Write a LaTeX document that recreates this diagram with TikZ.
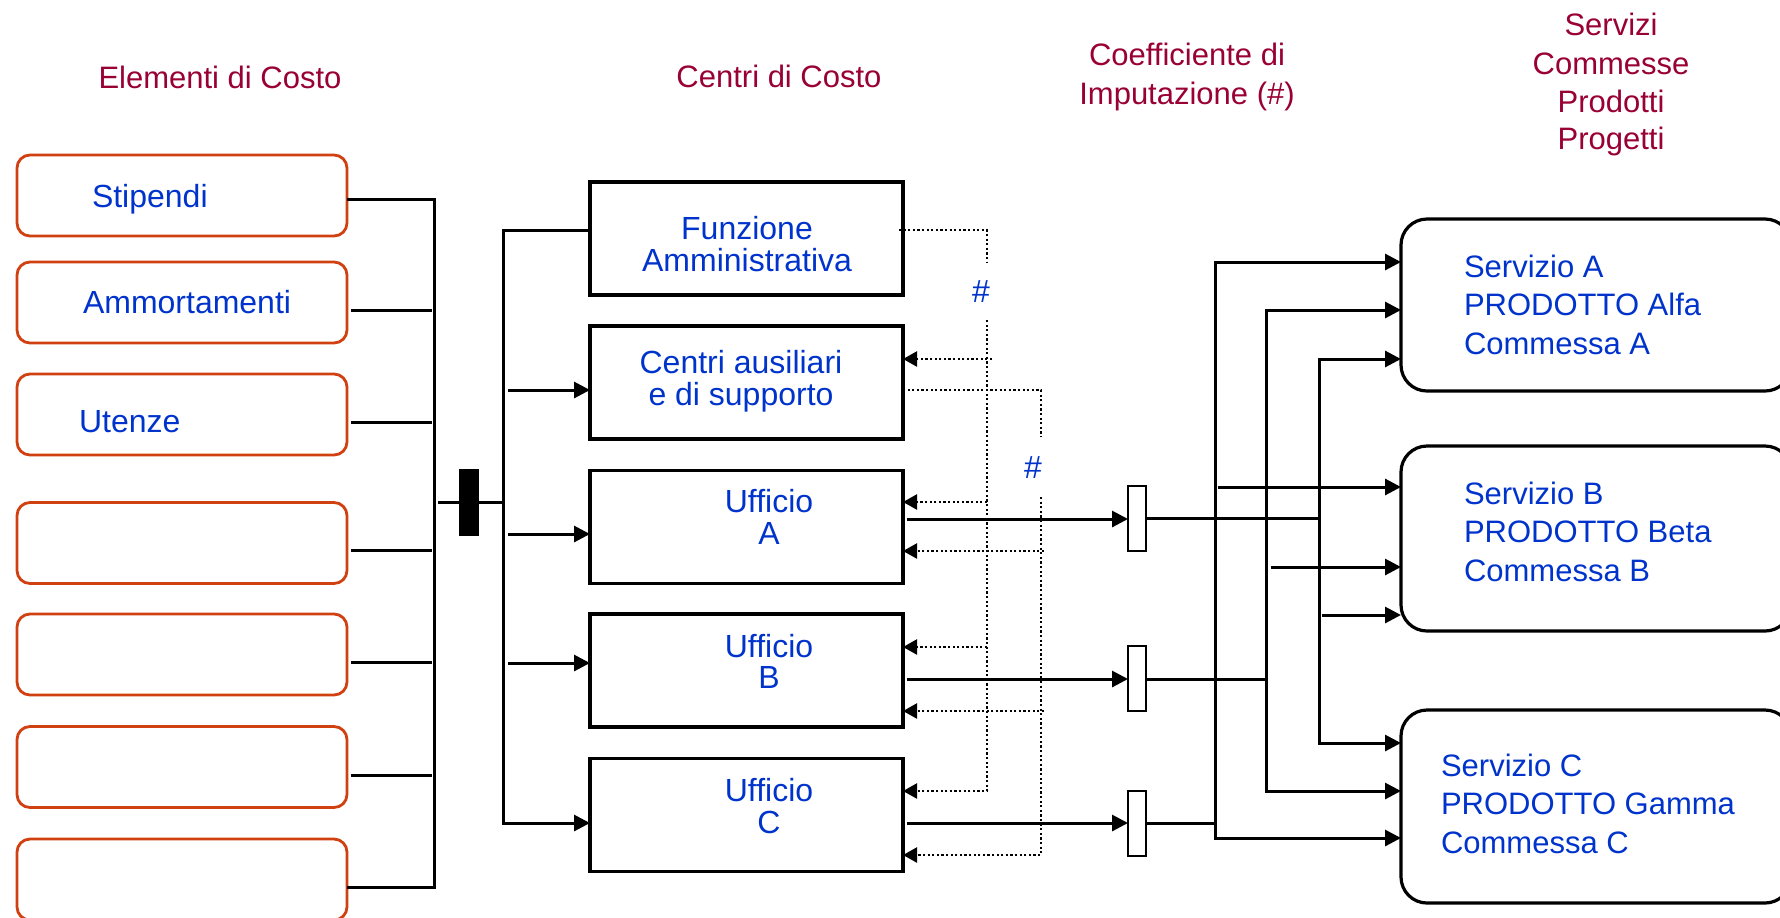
\documentclass[tikz,border=0pt]{standalone}
\usepackage{fontspec}
\setmainfont{Liberation Sans}
\usetikzlibrary{arrows.meta}
\definecolor{txtblue}{RGB}{0,51,204}
\definecolor{hdred}{RGB}{153,0,51}
\definecolor{boxorange}{RGB}{208,64,16}
\begin{document}
\begin{tikzpicture}[x=0.5pt,y=-0.5pt,
  every node/.style={inner sep=0pt, outer sep=0pt},
  lbl/.style={font=\fontsize{16}{16}\selectfont, text=txtblue},
  slbl/.style={font=\fontsize{15.5}{16}\selectfont, text=txtblue},
  hdr/.style={font=\fontsize{15.5}{16}\selectfont, text=hdred},
  elem/.style={draw=boxorange, line width=1.4pt, rounded corners=6.5pt, minimum width=165pt, minimum height=40.5pt},
  ctr/.style={draw, line width=1.6pt, minimum width=156.5pt, minimum height=56.5pt},
  coef/.style={draw, line width=1.1pt, minimum width=9pt, minimum height=32.5pt},
  serv/.style={draw, line width=1.6pt, rounded corners=13pt, minimum width=195pt},
  wire/.style={line width=1.5pt},
  dots/.style={line width=1.2pt, dash pattern=on 1.1pt off 1.2pt},
  tip/.style={-{Triangle[length=8pt,width=8pt]}},
  dtip/.style={-{Triangle[length=7pt,width=7.5pt]}},
  tipboth/.style={{Triangle[length=8pt,width=8pt]}-{Triangle[length=8pt,width=8pt]}},
]
\useasboundingbox (0,0) rectangle (1780,917);
\clip (0,0) rectangle (1780,917);

% headers
\node[hdr, anchor=base] (h1) at (220,88) {Elementi di Costo};
\node[hdr, anchor=base] (h2) at (779,87) {Centri di Costo};
\node[hdr, anchor=base] (h3a) at (1187,65) {Coefficiente di};
\node[hdr, anchor=base] (h3b) at (1187,104) {Imputazione (\#)};
\node[hdr, anchor=base] (h4a) at (1611,35) {Servizi};
\node[hdr, anchor=base] (h4b) at (1611,74) {Commesse};
\node[hdr, anchor=base] (h4c) at (1611,112) {Prodotti};
\node[hdr, anchor=base] (h4d) at (1611,149) {Progetti};

% cost elements
\node[elem] (e1) at (182,195.5) {};
\node[elem] (e2) at (182,302.5) {};
\node[elem] (e3) at (182,414.5) {};
\node[elem] (e4) at (182,543) {};
\node[elem] (e5) at (182,654.5) {};
\node[elem] (e6) at (182,767) {};
\node[elem] (e7) at (182,879.5) {};
\node[lbl, anchor=base west] (t1) at (92,207) {Stipendi};
\node[lbl, anchor=base west] (t2) at (83,313) {Ammortamenti};
\node[lbl, anchor=base west] (t3) at (79,432) {Utenze};

\draw[wire] (e1.east |- 0,199) -- (434,199) -- (434,887) -- (e7.east |- 0,887);
\draw[wire] (e2.east |- 0,310) ++(4,0) -- (432,310);
\draw[wire] (e3.east |- 0,422) ++(4,0) -- (432,422);
\draw[wire] (e4.east |- 0,550) ++(4,0) -- (432,550);
\draw[wire] (e5.east |- 0,662) ++(4,0) -- (432,662);
\draw[wire] (e6.east |- 0,775) ++(4,0) -- (432,775);

% junction
\draw[wire] (438,502) -- (503,502);
\node[fill=black, minimum width=10pt, minimum height=33.5pt] (jn) at (469,502.5) {};

% cost centres
\node[ctr] (fa) at (746.5,238.5) {};
\node[ctr] (ca) at (746.5,382.5) {};
\node[ctr] (ua) at (746.5,527) {};
\node[ctr] (ub) at (746.5,670.5) {};
\node[ctr] (uc) at (746.5,815) {};
\node[lbl, anchor=base] (fa1) at (747,239) {Funzione};
\node[lbl, anchor=base] (fa2) at (747,271) {Amministrativa};
\node[lbl, anchor=base] (ca1) at (741,373) {Centri ausiliari};
\node[lbl, anchor=base] (ca2) at (741,405) {e di supporto};
\node[lbl, anchor=base] (ua1) at (769,512) {Ufficio};
\node[lbl, anchor=base] (ua2) at (769,544) {A};
\node[lbl, anchor=base] (ub1) at (769,657) {Ufficio};
\node[lbl, anchor=base] (ub2) at (769,688) {B};
\node[lbl, anchor=base] (uc1) at (769,801) {Ufficio};
\node[lbl, anchor=base] (uc2) at (769,833) {C};

\draw[wire, tip] (fa.west |- 0,230) -| (503,823) -- (uc.west |- 0,823);
\draw[wire, tip] (508,390) -- (ca.west |- 0,390);
\draw[wire, tip] (508,534) -- (ua.west |- 0,534);
\draw[wire, tip] (508,663) -- (ub.west |- 0,663);

% dotted feedback
\draw[dots] (fa.east |- 0,230) ++(-4,0) -- (987,230) -- (987,262);
\node[lbl, anchor=base] (hs1) at (981,302) {\#};
\draw[dots, dtip] (987,320) -- (987,791) -- (uc.east |- 0,791);
\draw[dots, dtip] (992,359) -- (ca.east |- 0,359);
\draw[dots, dtip] (987,502) -- (ua.east |- 0,502);
\draw[dots, dtip] (987,647) -- (ub.east |- 0,647);
\draw[dots] (ca.east |- 0,390) -- (1041,390) -- (1041,437);
\node[lbl, anchor=base] (hs2) at (1033,478) {\#};
\draw[dots, dtip] (1041,497) -- (1041,855) -- (uc.east |- 0,855);
\draw[dots, dtip] (1044,551) -- (ua.east |- 0,551);
\draw[dots, dtip] (1044,711) -- (ub.east |- 0,711);

% coefficient rectangles
\node[coef] (cA) at (1137,518.5) {};
\node[coef] (cB) at (1137,678.5) {};
\node[coef] (cC) at (1137,823.5) {};
\draw[wire, tip] (ua.east |- 0,519) ++(4,0) -- (cA.west |- 0,519);
\draw[wire, tip] (ub.east |- 0,679) ++(4,0) -- (cB.west |- 0,679);
\draw[wire, tip] (uc.east |- 0,823) ++(4,0) -- (cC.west |- 0,823);

% services
\node[serv, minimum height=86pt] (sa) at (1596,305) {};
\node[serv, minimum height=92.5pt] (sb) at (1596,538.5) {};
\node[serv, minimum height=96.5pt] (sc) at (1596,806.5) {};
\node[slbl, anchor=base west] (sa1) at (1464,277) {Servizio A};
\node[slbl, anchor=base west] (sa2) at (1464,315) {PRODOTTO Alfa};
\node[slbl, anchor=base west] (sa3) at (1464,354) {Commessa A};
\node[slbl, anchor=base west] (sb1) at (1464,504) {Servizio B};
\node[slbl, anchor=base west] (sb2) at (1464,542) {PRODOTTO Beta};
\node[slbl, anchor=base west] (sb3) at (1464,581) {Commessa B};
\node[slbl, anchor=base west] (sc1) at (1441,776) {Servizio C};
\node[slbl, anchor=base west] (sc2) at (1441,814) {PRODOTTO Gamma};
\node[slbl, anchor=base west] (sc3) at (1441,853) {Commessa C};

\draw[wire] (cA.east |- 0,518) -- (1319,518);
\draw[wire] (cB.east |- 0,679) -- (1266,679);
\draw[wire] (cC.east |- 0,823) -- (1215,823);

\draw[wire, tipboth] (sa.west |- 0,262) -| (1215,838) -- (sc.west |- 0,838);
\draw[wire, tip] (1218,487) -- (sb.west |- 0,487);
\draw[wire, tipboth] (sa.west |- 0,310) -| (1266,791) -- (sc.west |- 0,791);
\draw[wire, tip] (1271,567) -- (sb.west |- 0,567);
\draw[wire, tipboth] (sa.west |- 0,359) -| (1319,743) -- (sc.west |- 0,743);
\draw[wire, tip] (1322,615) -- (sb.west |- 0,615);
\end{tikzpicture}
\end{document}
